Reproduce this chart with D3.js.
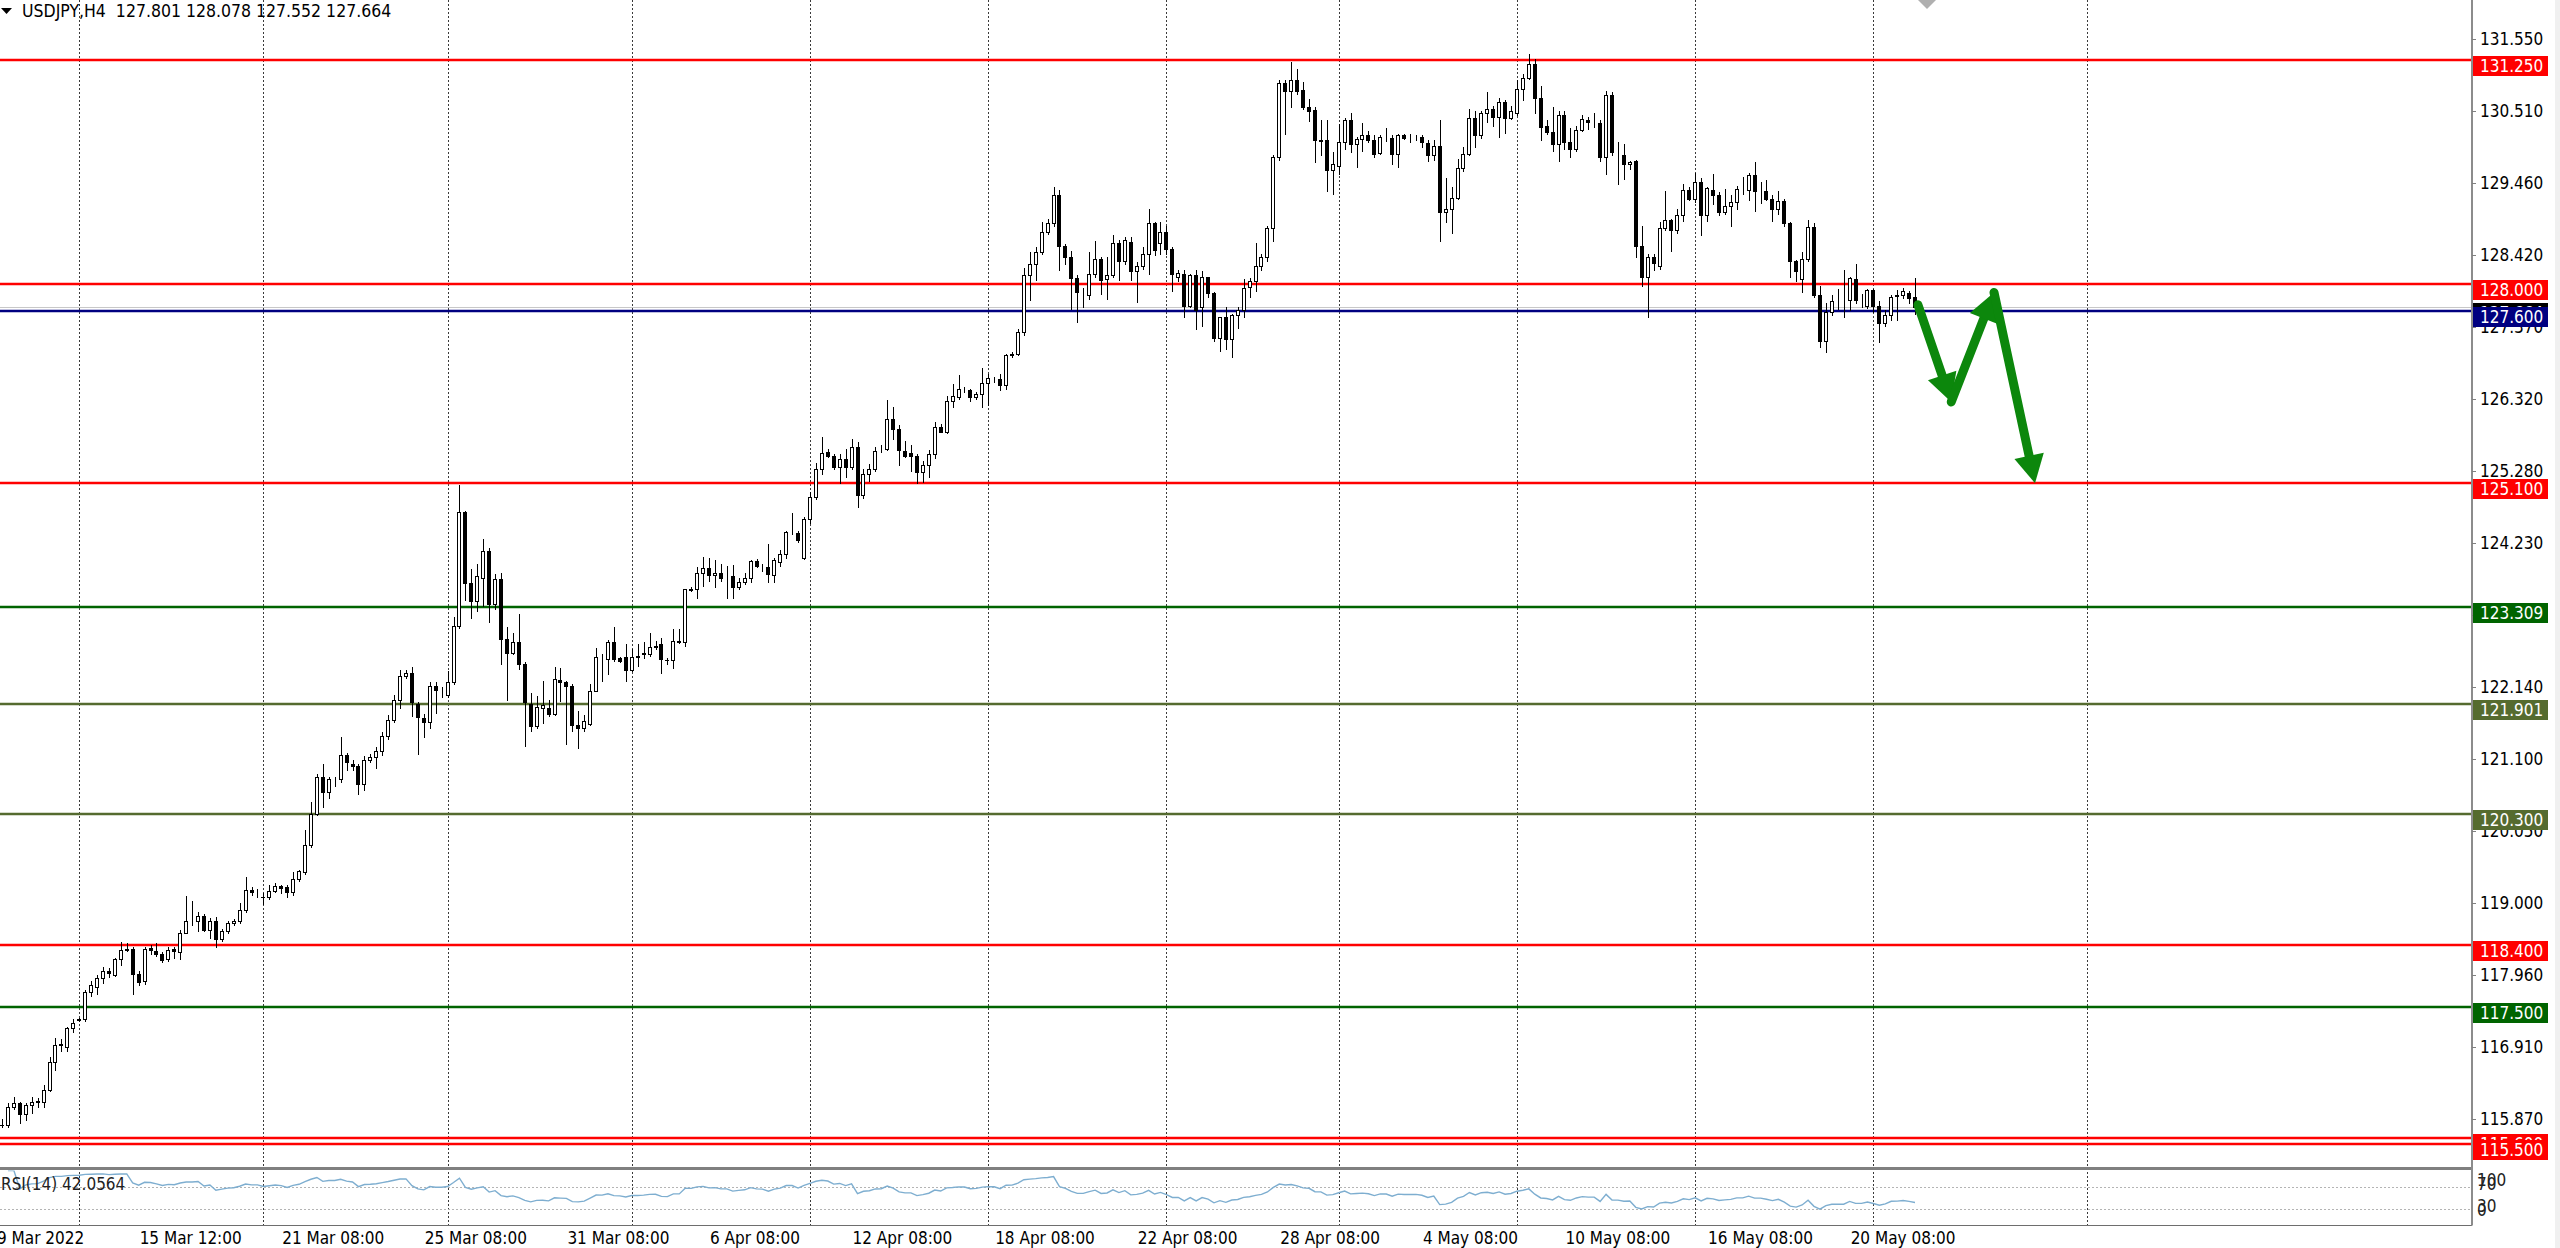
<!DOCTYPE html>
<html>
<head>
<meta charset="utf-8">
<script src="https://cdn.jsdelivr.net/npm/d3@7/dist/d3.min.js"></script>
<style>
body { margin: 0; background: #fff; }
text { font-family: Tahoma, "DejaVu Sans Condensed", "Liberation Sans", sans-serif; }
</style>
</head>
<body>
<script>
// USDJPY H4 candles: [open, high, low, close]
var candles = [
  [115.79,115.87,115.76,115.78],[115.78,116.10,115.76,116.04],[116.04,116.19,116.02,116.10],[116.10,116.12,115.81,115.94],
  [115.94,116.10,115.85,116.07],[116.07,116.19,115.95,116.12],[116.11,116.17,116.05,116.13],[116.11,116.37,116.05,116.29],
  [116.29,116.77,116.27,116.70],[116.70,117.04,116.58,116.95],[116.94,117.03,116.86,116.96],[116.92,117.21,116.86,117.19],
  [117.19,117.32,117.13,117.27],[117.31,117.34,117.29,117.32],[117.32,117.74,117.29,117.71],[117.71,117.87,117.65,117.81],
  [117.79,117.96,117.69,117.91],[117.91,118.08,117.84,118.02],[118.02,118.06,117.93,117.99],[117.96,118.21,117.94,118.19],
  [118.19,118.44,118.11,118.33],[118.33,118.42,118.31,118.34],[118.34,118.36,117.68,117.97],[117.97,118.02,117.81,117.86],
  [117.87,118.36,117.83,118.34],[118.35,118.39,118.27,118.33],[118.31,118.42,118.23,118.26],[118.26,118.29,118.15,118.18],
  [118.19,118.36,118.17,118.33],[118.34,118.36,118.21,118.31],[118.30,118.62,118.20,118.57],[118.57,119.11,118.57,118.75],
  [118.74,119.03,118.69,118.75],[118.75,118.87,118.60,118.82],[118.82,118.85,118.60,118.62],[118.62,118.79,118.50,118.75],
  [118.74,118.80,118.36,118.48],[118.48,118.63,118.46,118.60],[118.60,118.74,118.57,118.71],[118.71,118.78,118.69,118.75],
  [118.75,119.01,118.72,118.91],[118.91,119.38,118.87,119.20],[119.20,119.24,119.12,119.16],[119.16,119.21,119.09,119.16],
  [119.10,119.15,118.99,119.09],[119.09,119.27,119.06,119.18],[119.18,119.29,119.17,119.25],[119.26,119.27,119.15,119.23],
  [119.24,119.27,119.10,119.16],[119.16,119.46,119.12,119.36],[119.36,119.49,119.33,119.47],[119.46,120.07,119.43,119.85],
  [119.85,120.47,119.82,120.30],[120.30,120.88,120.28,120.83],[120.83,121.02,120.40,120.62],[120.62,120.83,120.53,120.81],
  [120.81,120.84,120.71,120.81],[120.81,121.41,120.77,121.15],[121.15,121.19,120.93,121.05],[121.03,121.08,120.93,121.00],
  [121.00,121.02,120.59,120.74],[120.74,121.14,120.65,121.08],[121.08,121.17,121.05,121.12],[121.12,121.27,120.96,121.21],
  [121.21,121.49,121.15,121.43],[121.43,121.73,121.38,121.66],[121.66,122.03,121.63,121.96],[121.96,122.39,121.84,122.30],
  [122.30,122.39,122.27,122.35],[122.35,122.43,121.72,121.93],[121.90,121.93,121.17,121.70],[121.69,121.75,121.41,121.63],
  [121.63,122.21,121.55,122.15],[122.15,122.21,121.76,122.10],[122.10,122.14,121.99,122.10],[122.03,122.37,121.99,122.22],
  [122.21,123.16,122.18,123.03],[123.03,125.08,123.00,124.68],[124.68,124.70,123.40,123.65],[123.65,123.86,123.15,123.39],
  [123.39,123.93,123.25,123.75],[123.73,124.29,123.32,124.12],[124.12,124.16,123.09,123.34],[123.34,123.78,123.27,123.71],
  [123.71,123.79,122.47,122.84],[122.84,123.01,121.96,122.63],[122.63,122.93,122.62,122.80],[122.79,123.20,122.40,122.47],
  [122.47,122.51,121.29,121.92],[121.89,122.06,121.51,121.58],[121.58,122.01,121.55,121.85],[121.83,122.23,121.62,121.88],
  [121.83,121.95,121.72,121.75],[121.75,122.43,121.73,122.26],[122.25,122.42,121.94,122.21],[122.21,122.23,121.31,122.16],
  [122.16,122.18,121.50,121.59],[121.59,121.80,121.26,121.55],[121.54,121.74,121.50,121.65],[121.61,122.18,121.59,122.09],
  [122.09,122.71,122.08,122.58],[122.57,122.62,122.23,122.57],[122.55,122.83,122.33,122.79],[122.79,123.01,122.52,122.55],
  [122.56,122.58,122.50,122.52],[122.58,122.76,122.23,122.39],[122.39,122.69,122.37,122.58],[122.58,122.76,122.45,122.59],
  [122.62,122.79,122.57,122.63],[122.62,122.93,122.59,122.72],[122.73,122.81,122.69,122.74],[122.76,122.85,122.35,122.55],
  [122.54,122.57,122.47,122.53],[122.53,122.98,122.42,122.81],[122.80,122.98,122.78,122.81],[122.80,123.57,122.74,123.56],
  [123.56,123.59,123.54,123.55],[123.56,123.88,123.44,123.80],[123.80,124.03,123.61,123.87],[123.87,124.01,123.68,123.77],
  [123.77,123.98,123.60,123.80],[123.80,123.93,123.68,123.72],[123.73,123.90,123.44,123.73],[123.75,123.92,123.44,123.59],
  [123.59,123.73,123.56,123.67],[123.67,123.80,123.64,123.73],[123.73,123.99,123.66,123.97],[123.97,124.00,123.88,123.90],
  [123.89,123.93,123.83,123.89],[123.88,124.22,123.66,123.78],[123.77,124.02,123.66,123.98],[123.95,124.13,123.90,124.08],
  [124.08,124.41,124.02,124.39],[124.39,124.67,124.36,124.39],[124.38,124.41,124.24,124.27],[124.02,124.61,124.00,124.58],
  [124.58,124.97,124.53,124.90],[124.90,125.40,124.87,125.31],[125.31,125.77,125.24,125.54],[125.55,125.60,125.48,125.50],
  [125.50,125.52,125.31,125.33],[125.33,125.52,125.11,125.45],[125.45,125.60,125.19,125.33],[125.33,125.74,125.31,125.62],
  [125.62,125.70,124.75,124.93],[124.93,125.31,124.89,125.23],[125.23,125.38,125.14,125.31],[125.31,125.63,125.28,125.57],
  [125.60,125.65,125.55,125.60],[125.60,126.31,125.58,126.04],[126.04,126.20,125.74,125.89],[125.89,125.94,125.36,125.58],
  [125.57,125.72,125.48,125.49],[125.54,125.66,125.28,125.49],[125.50,125.52,125.10,125.26],[125.26,125.43,125.12,125.37],
  [125.37,125.58,125.19,125.52],[125.52,125.99,125.47,125.92],[125.92,125.96,125.84,125.84],[125.84,126.36,125.83,126.30],
  [126.30,126.54,126.21,126.36],[126.35,126.67,126.33,126.47],[126.46,126.50,126.43,126.46],[126.46,126.47,126.30,126.35],
  [126.35,126.43,126.33,126.39],[126.39,126.78,126.21,126.56],[126.55,126.69,126.23,126.63],[126.62,126.65,126.57,126.62],
  [126.62,126.69,126.45,126.52],[126.52,126.98,126.47,126.96],[126.96,127.01,126.93,126.98],[126.97,127.34,126.96,127.29],
  [127.29,128.23,127.25,128.12],[128.12,128.46,127.76,128.29],[128.29,128.53,128.05,128.46],[128.46,128.89,128.43,128.75],
  [128.75,128.94,128.72,128.88],[128.88,129.40,128.84,129.28],[129.28,129.36,128.19,128.54],[128.54,128.58,128.28,128.38],
  [128.38,128.47,127.63,128.08],[128.08,128.12,127.44,127.88],[127.88,127.93,127.66,127.88],[127.83,128.46,127.78,128.14],
  [128.14,128.62,128.09,128.36],[128.36,128.38,127.85,128.05],[128.06,128.38,127.78,128.12],[128.12,128.70,128.09,128.59],
  [128.59,128.63,128.05,128.33],[128.33,128.67,128.29,128.63],[128.60,128.68,128.05,128.18],[128.18,128.31,127.73,128.25],
  [128.25,128.53,128.21,128.43],[128.43,129.08,128.14,128.88],[128.88,128.89,128.42,128.49],[128.59,128.89,128.43,128.75],
  [128.75,128.84,128.43,128.50],[128.50,128.53,127.89,128.14],[128.10,128.20,128.04,128.15],[128.14,128.19,127.51,127.68],
  [127.68,128.14,127.66,128.12],[128.12,128.20,127.34,127.61],[127.66,128.18,127.39,128.09],[128.09,128.10,127.80,127.86],
  [127.86,127.88,127.17,127.21],[127.21,127.52,127.02,127.51],[127.51,127.66,127.05,127.20],[127.20,127.56,126.94,127.54],
  [127.54,127.66,127.36,127.62],[127.62,128.07,127.51,127.94],[127.95,128.08,127.80,128.04],[128.04,128.59,127.89,128.25],
  [128.25,128.43,128.19,128.39],[128.39,128.84,128.33,128.81],[128.81,129.86,128.62,129.83],[129.83,130.95,129.79,130.91],
  [130.91,130.95,130.17,130.79],[130.79,131.21,130.57,130.95],[130.95,131.11,130.75,130.79],[130.81,130.92,130.53,130.56],
  [130.56,130.68,130.36,130.51],[130.52,130.56,129.76,130.09],[130.09,130.37,129.86,130.07],[130.08,130.38,129.35,129.65],
  [129.65,129.91,129.30,129.74],[129.71,130.32,129.59,130.05],[130.05,130.41,129.95,130.37],[130.37,130.47,129.91,130.03],
  [130.03,130.12,129.69,130.10],[130.10,130.33,129.93,130.16],[130.16,130.22,130.05,130.08],[130.08,130.15,129.83,129.88],
  [129.89,130.15,129.88,130.12],[130.11,130.26,130.07,130.11],[130.11,130.16,129.73,129.88],[129.88,130.17,129.69,130.15],
  [130.15,130.17,130.10,130.11],[130.11,130.17,130.05,130.11],[130.12,130.15,130.08,130.12],[130.13,130.16,129.98,130.05],
  [130.04,130.09,129.78,129.86],[129.86,130.09,129.79,129.99],[129.99,130.37,128.62,129.04],[129.04,129.53,128.89,129.08],
  [129.08,129.40,128.73,129.24],[129.24,129.81,129.22,129.68],[129.68,129.98,129.64,129.88],[129.88,130.53,129.86,130.40],
  [130.40,130.51,129.98,130.15],[130.15,130.51,130.11,130.47],[130.47,130.78,130.34,130.53],[130.53,130.58,130.29,130.42],
  [130.42,130.69,130.12,130.64],[130.64,130.66,130.18,130.41],[130.41,130.58,130.39,130.51],[130.47,130.95,130.44,130.83],
  [130.83,131.04,130.66,130.98],[130.98,131.33,130.97,131.19],[131.19,131.26,130.47,130.70],[130.70,130.87,130.08,130.27],
  [130.28,130.37,130.17,130.20],[130.20,130.56,129.92,130.03],[130.03,130.50,129.78,130.45],[130.45,130.51,129.95,130.05],
  [130.05,130.26,129.84,129.95],[129.95,130.28,129.93,130.23],[130.23,130.44,130.21,130.39],[130.38,130.42,130.24,130.34],
  [130.34,130.47,130.27,130.34],[130.33,130.37,129.78,129.84],[129.84,130.79,129.59,130.74],[130.74,130.78,129.86,129.91],
  [129.91,130.05,129.45,129.91],[129.86,130.02,129.52,129.73],[129.73,129.78,129.66,129.76],[129.78,129.79,128.39,128.54],
  [128.54,128.84,127.96,128.10],[128.10,128.43,127.51,128.39],[128.39,128.43,128.19,128.30],[128.25,128.89,128.21,128.81],
  [128.81,129.34,128.77,128.92],[128.92,128.94,128.47,128.78],[128.78,129.08,128.73,129.00],[129.00,129.44,128.91,129.36],
  [129.36,129.40,129.21,129.23],[129.23,129.60,129.18,129.47],[129.47,129.53,128.70,129.00],[129.00,129.40,128.91,129.38],
  [129.36,129.59,129.16,129.29],[129.29,129.33,128.99,129.04],[129.04,129.37,129.01,129.12],[129.13,129.28,128.83,129.18],
  [129.18,129.42,129.08,129.37],[129.37,129.54,129.30,129.37],[129.36,129.60,129.21,129.57],[129.57,129.76,129.06,129.35],
  [129.35,129.47,129.17,129.35],[129.35,129.50,129.21,129.23],[129.23,129.29,128.91,129.08],[129.08,129.34,129.01,129.20],
  [129.20,129.23,128.84,128.88],[128.88,128.89,128.10,128.33],[128.33,128.34,128.04,128.18],[128.06,128.46,127.88,128.36],
  [128.36,128.92,128.33,128.82],[128.82,128.88,127.81,127.83],[127.83,127.96,127.08,127.16],[127.16,127.72,127.01,127.59],
  [127.59,127.83,127.54,127.75],[127.76,127.92,127.63,127.76],[127.76,128.20,127.51,127.76],[127.76,128.09,127.62,128.08],
  [128.07,128.28,127.71,127.76],[127.76,127.85,127.66,127.76],[127.68,127.92,127.65,127.91],[127.91,127.92,127.59,127.68],
  [127.68,127.74,127.15,127.42],[127.42,127.62,127.39,127.55],[127.55,127.84,127.47,127.81],[127.82,127.90,127.47,127.83],
  [127.84,127.93,127.79,127.89],[127.86,127.89,127.71,127.79],[127.801,128.078,127.552,127.664]
];

// price scale ticks on the right axis
var priceTicks = [131.55, 130.51, 129.46, 128.42, 127.37, 126.32, 125.28, 124.23, 123.19, 122.14, 121.10, 120.05, 119.00, 117.96, 116.91, 115.87];

// horizontal levels drawn on the chart
var levelPrices = [131.25, 128.0, 125.1, 123.309, 121.901, 120.3, 118.4, 117.5, 115.6, 115.5, 127.6];
var bidPrice = 127.664;

// time axis: bar index of each label and its text
var dateIdx = [23, 47, 71, 95, 119, 143, 167, 191, 215, 239, 263, 287, 311];
var dateLabels = ["15 Mar 12:00", "21 Mar 08:00", "25 Mar 08:00", "31 Mar 08:00", "6 Apr 08:00", "12 Apr 08:00",
                  "18 Apr 08:00", "22 Apr 08:00", "28 Apr 08:00", "4 May 08:00", "10 May 08:00", "16 May 08:00", "20 May 08:00"];
var firstLabel = "9 Mar 2022";

// vertical dotted grid, by bar index
var gridIdx = [13, 44, 75, 106, 136, 166, 196, 225, 255, 285, 315, 351];

// drawn forecast path: [bar index, price]
var forecast = [[322.5, 127.69], [328.1, 126.28], [335.3, 127.87], [342.2, 125.10]];

var rsiLevels = [70, 30];
var rsiAxis = [100, 70, 30, 0];
var header = "USDJPY,H4  127.801 128.078 127.552 127.664";
var rsiTitle = "RSI(14) 42.0564";

// visual settings
var vis = {
    width: 2560,
    height: 1248,
    axisX: 2472,
    mainBottom: 1166,
    rsiTop: 1170.5,
    rsiBottom: 1225.5,
    font: 17,
    levelWidth: 2.6,
    levelColors: ["#ff0000", "#ff0000", "#ff0000", "#006400", "#556b2f", "#556b2f", "#ff0000", "#006400", "#ff0000", "#ff0000", "#000080"],
    arrowColor: "#0c870c",
    rsiColor: "#7eaed0"
};

var svg = d3.select("body")
            .append("svg")
            .attr("width", vis.width)
            .attr("height", vis.height);

svg.append("rect").attr("width", vis.width).attr("height", vis.height).attr("fill", "#fff");

var x = d3.scaleLinear().domain([0, candles.length - 1]).range([2, 1915]);
var y = d3.scaleLinear().domain([115.87, 131.55]).range([1119, 39]);
var yRsi = d3.scaleLinear().domain([0, 100]).range([vis.rsiBottom, vis.rsiTop]);

function px(v) { return Math.round(v); }

svg.append("clipPath").attr("id", "mainClip")
   .append("rect").attr("x", 0).attr("y", 0).attr("width", vis.axisX - 1).attr("height", vis.mainBottom);
svg.append("clipPath").attr("id", "rsiClip")
   .append("rect").attr("x", 0).attr("y", vis.rsiTop).attr("width", vis.axisX - 1).attr("height", vis.rsiBottom - vis.rsiTop);

// grid
svg.append("g").selectAll("line")
   .data(gridIdx)
   .enter()
   .append("line")
   .attr("x1", function(d) { return px(x(d)) + 0.5; })
   .attr("x2", function(d) { return px(x(d)) + 0.5; })
   .attr("y1", 0)
   .attr("y2", vis.rsiBottom)
   .attr("stroke", "#3a3a3a")
   .attr("stroke-dasharray", "2,2")
   .attr("shape-rendering", "crispEdges");

var main = svg.append("g").attr("clip-path", "url(#mainClip)");

// bid line
main.append("line")
    .attr("x1", 0).attr("x2", vis.axisX)
    .attr("y1", px(y(bidPrice)) + 0.5).attr("y2", px(y(bidPrice)) + 0.5)
    .attr("stroke", "#c8c8c8").attr("stroke-width", 1);

// levels
main.selectAll("line.level")
    .data(levelPrices)
    .enter()
    .append("line")
    .attr("class", "level")
    .attr("x1", 0).attr("x2", vis.axisX)
    .attr("y1", function(d) { return px(y(d)); })
    .attr("y2", function(d) { return px(y(d)); })
    .attr("stroke", function(d, i) { return vis.levelColors[i]; })
    .attr("stroke-width", vis.levelWidth);

// candles
var bars = main.selectAll("g.bar")
    .data(candles)
    .enter()
    .append("g")
    .attr("class", "bar")
    .attr("shape-rendering", "crispEdges");

bars.append("line")
    .attr("x1", function(d, i) { return px(x(i)) + 0.5; })
    .attr("x2", function(d, i) { return px(x(i)) + 0.5; })
    .attr("y1", function(d) { return px(y(d[1])); })
    .attr("y2", function(d) { return px(y(d[2])) + 1; })
    .attr("stroke", "#000")
    .attr("stroke-width", 1);

bars.append("rect")
    .attr("x", function(d, i) { return d[3] >= d[0] ? px(x(i)) - 1.5 : px(x(i)) - 2; })
    .attr("width", function(d) { return d[3] >= d[0] ? 3 : 4; })
    .attr("y", function(d) {
        var top = px(y(Math.max(d[0], d[3])));
        return d[3] >= d[0] ? top + 0.5 : top;
    })
    .attr("height", function(d) {
        var h = px(y(Math.min(d[0], d[3]))) - px(y(Math.max(d[0], d[3])));
        return d[3] >= d[0] ? Math.max(0, h) : Math.max(1, h + 1);
    })
    .attr("fill", function(d) { return d[3] >= d[0] ? "#fff" : "#000"; })
    .attr("stroke", "#000")
    .attr("stroke-width", function(d) { return d[3] >= d[0] ? 1 : 0; });

// forecast arrows
var pts = forecast.map(function(d) { return [x(d[0]), y(d[1])]; });
var arrows = svg.append("g");
for (var k = 1; k < pts.length; k++) {
    var a = pts[k - 1], b = pts[k];
    var dx = b[0] - a[0], dy = b[1] - a[1];
    var len = Math.sqrt(dx * dx + dy * dy);
    var ux = dx / len, uy = dy / len;
    var bx = b[0] - ux * 28, by = b[1] - uy * 28;
    arrows.append("line")
        .attr("x1", a[0]).attr("y1", a[1])
        .attr("x2", bx + ux * 6).attr("y2", by + uy * 6)
        .attr("stroke", vis.arrowColor)
        .attr("stroke-width", 9)
        .attr("stroke-linecap", "round");
    arrows.append("polygon")
        .attr("points", [[b[0], b[1]], [bx - uy * 15, by + ux * 15], [bx + uy * 15, by - ux * 15]].join(" "))
        .attr("fill", vis.arrowColor);
}

// panel frames
svg.append("rect").attr("x", 0).attr("y", vis.mainBottom + 1).attr("width", vis.axisX).attr("height", 3).attr("fill", "#808080");
svg.append("line").attr("x1", 0).attr("x2", vis.axisX).attr("y1", vis.rsiBottom).attr("y2", vis.rsiBottom)
   .attr("stroke", "#6e6e6e").attr("stroke-width", 1);
svg.append("rect").attr("x", vis.axisX - 1).attr("y", 0).attr("width", 2).attr("height", vis.rsiBottom).attr("fill", "#8c8c8c");
svg.append("rect").attr("x", 2555).attr("y", 0).attr("width", 5).attr("height", vis.height).attr("fill", "#f0f0f0");

// price axis ticks and labels
var axis = svg.append("g");
axis.selectAll("line")
    .data(priceTicks)
    .enter()
    .append("line")
    .attr("x1", vis.axisX).attr("x2", vis.axisX + 4)
    .attr("y1", function(d) { return px(y(d)) + 0.5; })
    .attr("y2", function(d) { return px(y(d)) + 0.5; })
    .attr("stroke", "#808080");
axis.selectAll("text")
    .data(priceTicks)
    .enter()
    .append("text")
    .attr("x", vis.axisX + 8)
    .attr("y", function(d) { return y(d) + 6; })
    .attr("font-size", vis.font)
    .attr("fill", "#000")
    .text(function(d) { return d.toFixed(3); });

// price tags: bid first, then levels
function tag(price, color) {
    var ty = px(y(price));
    svg.append("rect")
       .attr("x", vis.axisX + 1).attr("y", ty - 4)
       .attr("width", 75).attr("height", 20)
       .attr("fill", color);
    svg.append("text")
       .attr("x", vis.axisX + 8).attr("y", ty + 12)
       .attr("font-size", vis.font)
       .attr("fill", "#fff")
       .text(price.toFixed(3));
}
tag(bidPrice, "#000");
levelPrices.forEach(function(p, i) { tag(p, vis.levelColors[i]); });

// RSI(14) from the closes
var closes = candles.map(function(d) { return d[3]; });
var rsi = [];
var ag = 0, al = 0;
for (var i = 1; i < closes.length; i++) {
    var ch = closes[i] - closes[i - 1];
    var n = Math.min(i, 14);
    ag = (ag * (n - 1) + Math.max(ch, 0)) / n;
    al = (al * (n - 1) + Math.max(-ch, 0)) / n;
    rsi.push([i, al === 0 ? 100 : 100 - 100 / (1 + ag / al)]);
}

var rsiG = svg.append("g").attr("clip-path", "url(#rsiClip)");
rsiG.selectAll("line")
    .data(rsiLevels)
    .enter()
    .append("line")
    .attr("x1", 0).attr("x2", vis.axisX)
    .attr("y1", function(d) { return px(yRsi(d)) + 0.5; })
    .attr("y2", function(d) { return px(yRsi(d)) + 0.5; })
    .attr("stroke", "#b4b4b4")
    .attr("stroke-dasharray", "2,2");
rsiG.append("path")
    .datum(rsi)
    .attr("d", d3.line().x(function(d) { return x(d[0]); }).y(function(d) { return yRsi(d[1]); }))
    .attr("fill", "none")
    .attr("stroke", vis.rsiColor)
    .attr("stroke-width", 1.4);

svg.append("text")
   .attr("x", 1).attr("y", 1190)
   .attr("font-size", vis.font)
   .attr("fill", "#222")
   .text(rsiTitle);

var rsiLabelY = { 100: 1186, 70: 1190, 30: 1212, 0: 1216 };
svg.append("g").selectAll("text")
   .data(rsiAxis)
   .enter()
   .append("text")
   .attr("x", vis.axisX + 5)
   .attr("y", function(d) { return rsiLabelY[d]; })
   .attr("font-size", vis.font)
   .attr("fill", "#222")
   .text(function(d) { return d; });

// time axis
svg.append("text")
   .attr("x", -3).attr("y", 1244)
   .attr("font-size", vis.font)
   .attr("fill", "#000")
   .text(firstLabel);
svg.append("g").selectAll("text")
   .data(dateIdx)
   .enter()
   .append("text")
   .attr("x", function(d) { return x(d) + 1; })
   .attr("y", 1244)
   .attr("font-size", vis.font)
   .attr("fill", "#000")
   .text(function(d, i) { return dateLabels[i]; });

// header
svg.append("path").attr("d", "M1,8 L12,8 L6.5,14 Z").attr("fill", "#000");
svg.append("text")
   .attr("x", 22).attr("y", 17)
   .attr("font-size", 17.5)
   .attr("fill", "#000")
   .style("white-space", "pre")
   .text(header);

// chart shift marker
svg.append("path").attr("d", "M1918,0 L1936,0 L1927,9 Z").attr("fill", "#b0b0b0");
</script>
</body>
</html>
